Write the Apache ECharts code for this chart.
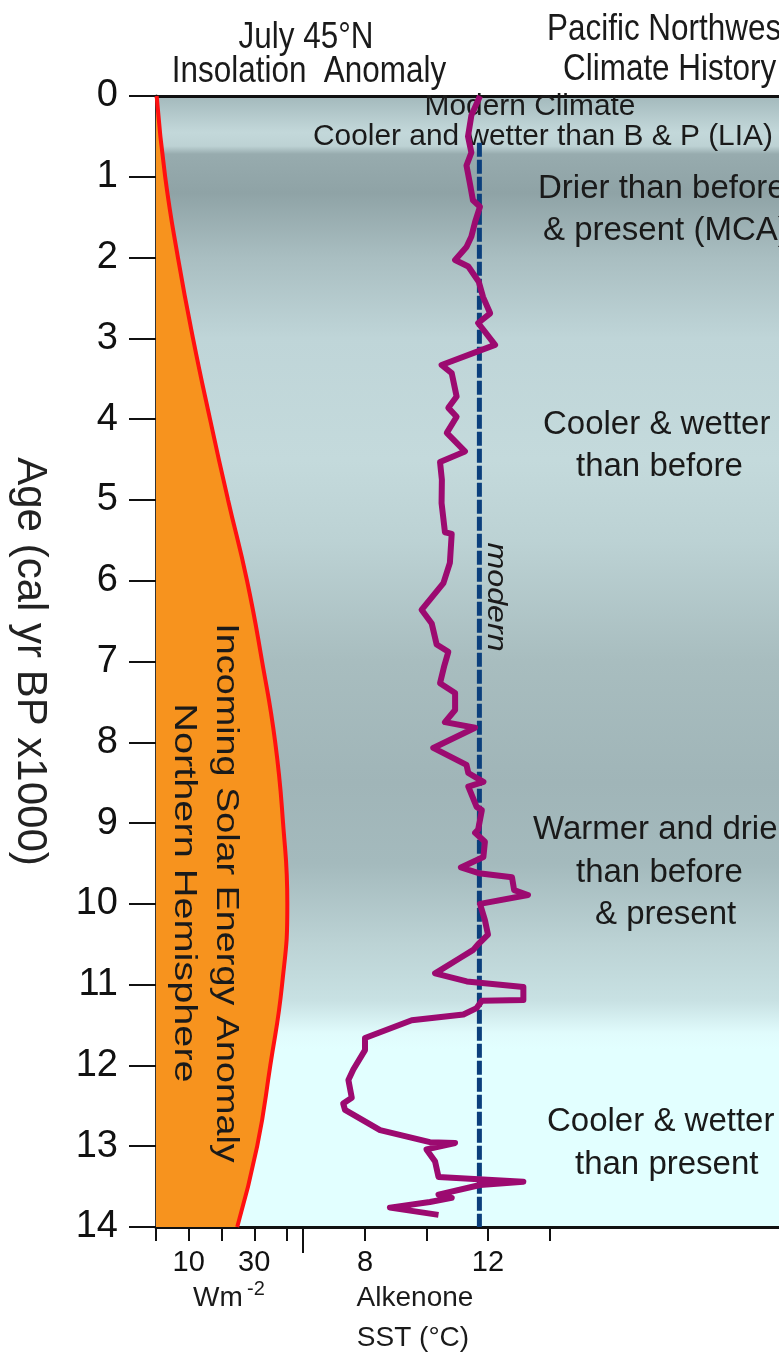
<!DOCTYPE html>
<html><head><meta charset="utf-8">
<script src="https://cdn.jsdelivr.net/npm/echarts@6/dist/echarts.min.js"></script>
<style>html,body{margin:0;padding:0;background:#fff}#c{width:779px;height:1355px}</style>
</head><body><div id="c"></div>
<script>
// ---------- data ----------
const insolAges = ['0','1','2','3','4','5','6','7','8','9','10','11','12','13','14'];
const insolValues = [0.2, 2.8, 6.7, 11.3, 16.5, 22.0, 27.8, 32.4, 36.4, 38.8, 40.1, 38.5, 34.9, 30.9, 24.8];

const sstAges = [0.00,0.24,0.50,0.70,0.86,1.08,1.29,1.37,1.56,1.74,1.87,2.03,2.11,2.30,2.49,2.69,2.81,3.08,3.33,3.43,
  3.72,3.86,3.97,4.17,4.40,4.53,4.75,5.04,5.40,5.42,5.78,6.03,6.36,6.53,6.79,6.88,7.05,7.27,7.39,7.60,
  7.75,7.82,8.07,8.28,8.38,8.49,8.55,8.80,8.84,9.08,9.12,9.23,9.42,9.55,9.62,9.67,9.83,9.89,10.00,10.20,
  10.38,10.50,10.57,10.67,10.86,10.96,11.03,11.19,11.20,11.29,11.37,11.44,11.66,11.81,12.05,12.18,12.40,12.47,12.55,12.80,
  12.95,12.96,13.04,13.19,13.38,13.44,13.48,13.60,13.64,13.69,13.76,13.85];
const sstValues = [11.74,11.46,11.35,11.46,11.30,11.41,11.51,11.74,11.58,11.46,11.30,10.93,11.36,11.70,11.84,12.07,11.68,12.23,10.49,10.82,
  10.98,10.71,10.98,10.66,11.25,10.44,10.50,10.49,10.60,10.82,10.76,10.55,9.84,10.17,10.33,10.71,10.58,10.44,10.93,10.93,
  10.60,11.58,10.22,11.30,11.36,11.85,11.36,11.63,11.80,11.68,11.58,11.90,11.85,11.12,11.70,12.78,12.85,13.30,11.74,11.90,
  12.00,11.68,11.52,11.09,10.28,11.31,13.15,13.15,11.80,11.63,11.20,9.52,8.00,8.00,7.62,7.46,7.57,7.29,7.35,8.49,
  10.11,10.93,10.00,10.28,10.39,13.15,11.74,10.39,10.82,10.11,8.81,10.39];

const modernSST = 11.72;
const modernAgeRange = [0.58, 14];

const insolTicks = [0,10,20,30,40];
const insolTickLabels = [10,30];
const sstTicks = [8,10,12,14];
const sstTickLabels = [8,12];
const separatorTick = [44.9];

// background climate bands: age -> colour
const bandAges   = [0.0, 0.45, 0.62, 0.72, 1.2, 2.0, 3.0, 4.5, 5.5, 7.0, 8.5, 9.5, 10.5, 11.2, 11.6, 11.8, 14];
const bandColors = ['#a3b9bc','#c3d8da','#bdd2d4','#97abae','#8fa3a6','#a9bec1','#bfd5d8','#c4dadc','#bcd2d4','#a8bdbf','#a0b5b8','#a4babd','#bcd3d5','#c8e1e3','#e0fbfc','#e2ffff','#e2ffff'];

// ---------- layout ----------
const W = 779, H = 1355;
const GL = 156, GR = 779, GT = 96, GB = 1227;
const insolPxPerUnit = 3.275;
const sstOriginPx = 365, sstPxPerDeg = 30.75;
const insolMax = (GR - GL) / insolPxPerUnit;
const sstMin = 8 - (sstOriginPx - GL) / sstPxPerDeg;
const sstMax = 8 + (GR - sstOriginPx) / sstPxPerDeg;

const SANS = "'Liberation Sans', Arial, sans-serif";

const chart = echarts.init(document.getElementById('c'), null, {renderer: 'canvas'});

function txt(text, x, y, size, opts) {
  opts = opts || {};
  return {
    type: 'text', x: x, y: y, z: opts.z || 1, rotation: opts.rot || 0,
    scaleX: opts.sx || 1, scaleY: opts.sy || 1,
    style: {
      text: text, fill: opts.color || '#1a1a1a',
      font: (opts.italic ? 'italic ' : '') + size + 'px ' + SANS,
      align: opts.align || 'left', verticalAlign: 'middle'
    }
  };
}

const noAxisLine = {show: false, onZero: false};

const option = {
  animation: false,
  backgroundColor: '#ffffff',
  grid: {
    left: GL, right: W - GR, top: GT, bottom: H - GB, show: true, borderWidth: 0,
    containLabel: false, outerBoundsMode: 'none',
    backgroundColor: {
      type: 'linear', x: 0, y: 0, x2: 0, y2: 1,
      colorStops: bandAges.map((a, i) => ({offset: a / 14, color: bandColors[i]}))
    }
  },
  xAxis: [
    { type: 'value', position: 'bottom', min: 0, max: insolMax,
      axisLine: {show: true, onZero: false, lineStyle: {color: '#111', width: 3}},
      axisTick: {show: true, customValues: insolTicks, length: 14, lineStyle: {color: '#111', width: 2}},
      axisLabel: {show: true, customValues: insolTickLabels, fontSize: 29, color: '#111', margin: 21, fontFamily: SANS},
      splitLine: {show: false} },
    { type: 'value', position: 'bottom', min: sstMin, max: sstMax,
      axisLine: noAxisLine,
      axisTick: {show: true, customValues: sstTicks, length: 14, lineStyle: {color: '#111', width: 2}},
      axisLabel: {show: true, customValues: sstTickLabels, fontSize: 29, color: '#111', margin: 21, fontFamily: SANS},
      splitLine: {show: false} },
    { type: 'value', position: 'top', min: 0, max: insolMax,
      axisLine: {show: true, onZero: false, lineStyle: {color: '#111', width: 3}},
      axisTick: {show: false}, axisLabel: {show: false}, splitLine: {show: false} },
    { type: 'value', position: 'bottom', min: 0, max: insolMax,
      axisLine: noAxisLine,
      axisTick: {show: true, customValues: separatorTick, length: 26, lineStyle: {color: '#111', width: 2}},
      axisLabel: {show: false}, splitLine: {show: false} }
  ],
  yAxis: [
    { type: 'category', data: insolAges, inverse: true, boundaryGap: false, show: false,
      axisLine: noAxisLine, axisTick: {show: false}, axisLabel: {show: false} },
    { type: 'value', min: 0, max: 14, interval: 1, inverse: true, position: 'left',
      axisLine: {show: true, onZero: false, lineStyle: {color: '#333', width: 3}},
      axisTick: {show: true, length: 27, lineStyle: {color: '#111', width: 2}},
      axisLabel: {show: true, fontSize: 38, color: '#111', margin: 38, fontFamily: SANS},
      splitLine: {show: false},
      name: 'Age (cal yr BP x1000)', nameLocation: 'middle', nameRotate: -90, nameGap: 105,
      nameTextStyle: {fontSize: 42, color: '#222', fontFamily: SANS} }
  ],
  series: [
    { type: 'line', name: 'insolation', xAxisIndex: 0, yAxisIndex: 0, data: insolValues,
      smooth: true, symbol: 'none', z: 2,
      lineStyle: {color: '#ff1010', width: 4},
      areaStyle: {color: '#f7931e', opacity: 1} },
    { type: 'line', name: 'modern', xAxisIndex: 1, yAxisIndex: 1,
      data: modernAgeRange.map(a => [modernSST, a]), symbol: 'none', z: 3,
      lineStyle: {color: '#0b3f7c', width: 5, type: [14, 3]} },
    { type: 'line', name: 'sst', xAxisIndex: 1, yAxisIndex: 1,
      data: sstAges.map((a, i) => [sstValues[i], a]), symbol: 'none', z: 4,
      lineStyle: {color: '#9c0a70', width: 6, join: 'round'} }
  ],
  graphic: [
    txt('July 45°N', 306, 38, 37, {align: 'center', sx: 0.85}),
    txt('Insolation  Anomaly', 309, 72, 37, {align: 'center', sx: 0.85}),
    txt('Pacific Northwest', 547, 30, 37, {sx: 0.85}),
    txt('Climate History', 563, 70, 37, {sx: 0.85}),
    txt('Modern Climate', 530, 107, 29, {align: 'center', sx: 1.03}),
    txt('Cooler and wetter than B & P (LIA)', 313, 137, 29, {sx: 1.03}),
    txt('Drier than before', 538, 189, 33),
    txt('& present (MCA)', 543, 231, 33),
    txt('Cooler & wetter', 543, 425, 33),
    txt('than before', 576, 467, 33),
    txt('Warmer and drier', 533, 830, 33),
    txt('than before', 576, 873, 33),
    txt('& present', 595, 915, 33),
    txt('Cooler & wetter', 547, 1122, 33),
    txt('than present', 575, 1165, 33),
    txt('modern', 496, 597, 28, {align: 'center', rot: -Math.PI / 2, italic: true, z: 5, sx: 1.15}),
    txt('Incoming Solar Energy Anomaly', 226, 893, 32, {align: 'center', rot: -Math.PI / 2, z: 5, sx: 1.18}),
    txt('Northern Hemisphere', 184, 893, 32, {align: 'center', rot: -Math.PI / 2, z: 5, sx: 1.24}),
    txt('Wm', 193, 1298, 28),
    txt('-2', 247, 1289, 20),
    txt('Alkenone', 415, 1298, 28, {align: 'center'}),
    txt('SST (°C)', 413, 1338, 28, {align: 'center'})
  ]
};
chart.setOption(option);
</script>
</body></html>
